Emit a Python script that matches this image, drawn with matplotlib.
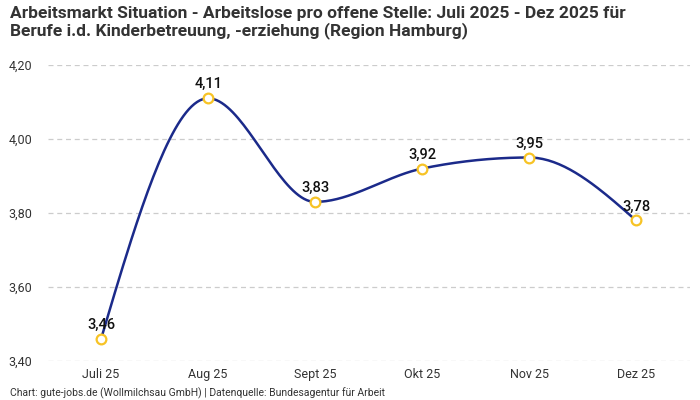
import numpy as np
import matplotlib
matplotlib.use("Agg")
import matplotlib.pyplot as plt

months = ["Juli 25", "Aug 25", "Sept 25", "Okt 25", "Nov 25", "Dez 25"]
values = [3.46, 4.11, 3.83, 3.92, 3.95, 3.78]
y_ticks = [3.40, 3.60, 3.80, 4.00, 4.20]

title = ("Arbeitsmarkt Situation - Arbeitslose pro offene Stelle: Juli 2025 - Dez 2025 für\n"
         "Berufe i.d. Kinderbetreuung, -erziehung (Region Hamburg)")
footer = "Chart: gute-jobs.de (Wollmilchsau GmbH) | Datenquelle: Bundesagentur für Arbeit"

plt.rcParams['font.family'] = ['Roboto', 'DejaVu Sans']


def monotone_path(x, y, steps=40):
    # same curve as d3.curveMonotoneX
    x = np.asarray(x, float)
    y = np.asarray(y, float)
    n = len(x)
    h = np.diff(x)
    s = np.diff(y) / h
    t = np.zeros(n)
    for i in range(1, n - 1):
        p = (s[i - 1] * h[i] + s[i] * h[i - 1]) / (h[i - 1] + h[i])
        t[i] = (np.sign(s[i - 1]) + np.sign(s[i])) * min(abs(s[i - 1]), abs(s[i]), 0.5 * abs(p))
    t[0] = (3 * s[0] - t[1]) / 2
    t[-1] = (3 * s[-1] - t[-2]) / 2
    xs, ys = [], []
    u = np.linspace(0, 1, steps)
    for i in range(n - 1):
        dx = h[i] / 3
        px = [x[i], x[i] + dx, x[i + 1] - dx, x[i + 1]]
        py = [y[i], y[i] + dx * t[i], y[i + 1] - dx * t[i + 1], y[i + 1]]
        b = [(1 - u) ** 3, 3 * (1 - u) ** 2 * u, 3 * (1 - u) * u ** 2, u ** 3]
        xs.append(sum(bk * pk for bk, pk in zip(b, px)))
        ys.append(sum(bk * pk for bk, pk in zip(b, py)))
    return np.concatenate(xs), np.concatenate(ys)


fig = plt.figure(figsize=(7, 4), dpi=100)
ax = fig.add_axes([0.068, 0.0975, 0.917, 0.74])

pos = np.arange(len(months))
cx, cy = monotone_path(pos, values)
ax.plot(cx, cy, color="#1b2a8a", lw=1.8, zorder=3)
ax.plot(pos, values, "o", ms=7, mfc="white", mec="#f7c325", mew=1.6, zorder=4)

for xp, v in zip(pos, values):
    ax.annotate(f"{v:.2f}".replace(".", ","), (xp, v), xytext=(0, 5), textcoords="offset points",
                ha="center", va="bottom", fontsize=10.5, fontweight="medium", color="#111111", zorder=5)

ax.set_xlim(-0.5, len(months) - 0.5)
ax.set_ylim(3.40, 4.20)
ax.set_xticks(pos)
ax.set_xticklabels(months)
ax.set_yticks(y_ticks)
ax.set_yticklabels([f"{v:.2f}".replace(".", ",") for v in y_ticks])
ax.tick_params(length=0, labelsize=9, colors="#333333")
ax.tick_params(axis="y", pad=11)
ax.tick_params(axis="x", pad=5)
for sp in ax.spines.values():
    sp.set_visible(False)
ax.grid(axis="y", ls=(0, (4, 3)), color="#cccccc", lw=0.9)
ax.set_axisbelow(True)

fig.text(0.014, 0.985, title, ha="left", va="top", fontsize=12.5, fontweight="bold",
         color="#333333", linespacing=1.1)
fig.text(0.014, 0.0175, footer, ha="left", va="center", fontsize=7.5, color="#333333")

fig.savefig("out.png", dpi=100)
